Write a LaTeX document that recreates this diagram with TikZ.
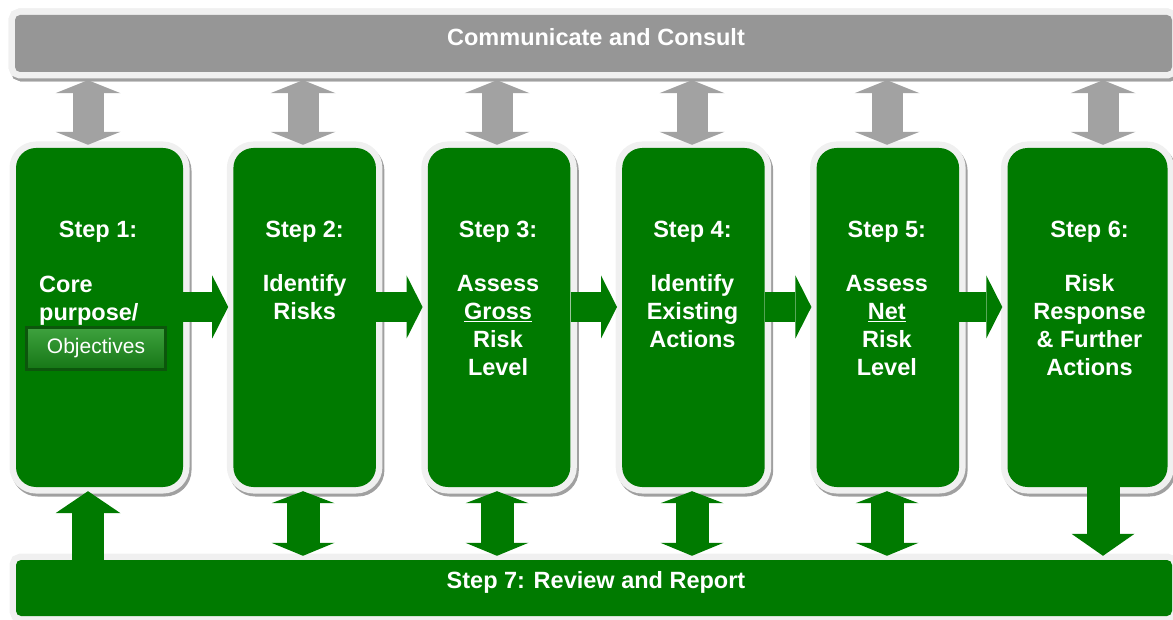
\documentclass[tikz,border=0pt]{standalone}
\usepackage{fontspec}
\setmainfont{Liberation Sans}
\usetikzlibrary{arrows.meta, positioning}
\definecolor{stepgreen}{RGB}{0,122,0}
\definecolor{bargray}{RGB}{150,150,150}
\definecolor{arrowgray}{RGB}{162,162,162}
\definecolor{rimgray}{RGB}{240,240,240}
\definecolor{shadegray}{RGB}{160,160,160}
\definecolor{objdark}{RGB}{12,86,12}
\definecolor{objtop}{RGB}{62,162,62}
\definecolor{objbot}{RGB}{22,118,22}
\tikzset{
  rimmed/.style={
    preaction={draw=shadegray, line width=13pt, transform canvas={shift={(2pt,-3pt)}}},
    preaction={draw=rimgray, line width=13pt}},
  stepbox/.style={rimmed, fill=stepgreen, rounded corners=20pt, inner sep=0pt,
    minimum width=142.5pt, minimum height=339pt},
  barbox/.style={rimmed, rounded corners=5pt, inner sep=0pt,
    minimum width=1157pt, minimum height=57pt},
  steptext/.style={text=white, align=center, inner sep=0pt,
    font=\bfseries\fontsize{23.5}{28}\selectfont},
  objbtn/.style={draw=objdark, line width=3pt, top color=objtop, bottom color=objbot,
    minimum width=139pt, minimum height=42pt, inner sep=0pt, text=white,
    font=\fontsize{21}{24}\selectfont},
  % block arrows
  fwd/.style={draw=stepgreen, line width=30pt,
    -{Triangle[width=63pt, length=16pt, line width=0pt]}},
  sync/.style={draw=arrowgray, line width=31pt,
    {Triangle[width=65pt, length=13pt, line width=0pt]}-{Triangle[width=65pt, length=13pt, line width=0pt]}},
  loop/.style={draw=stepgreen, line width=33pt,
    {Triangle[width=63pt, length=12pt, line width=0pt]}-{Triangle[width=63pt, length=13pt, line width=0pt]}},
  lift/.style={draw=stepgreen, line width=32pt,
    -{Triangle[width=65pt, length=22pt, line width=0pt]}},
  drop/.style={draw=stepgreen, line width=33pt,
    -{Triangle[width=63pt, length=22pt, line width=0pt]}}
}

\begin{document}
\begin{tikzpicture}[x=1pt, y=-1pt]
  \useasboundingbox (0,0) rectangle (1173,620);

  % arrow columns
  \foreach \i/\x in {1/88, 2/303, 3/497, 4/692, 5/887, 6/1103}
    \coordinate (col\i) at (\x,0);

  % the six steps
  \node[stepbox, minimum width=167pt] (s1) at (99.5,317.5) {};
  \node[stepbox, right=50pt of s1] (s2) {};
  \node[stepbox, right=51.5pt of s2] (s3) {};
  \node[stepbox, right=51.5pt of s3] (s4) {};
  \node[stepbox, right=51.5pt of s4] (s5) {};
  \node[stepbox, right=48pt of s5, minimum width=160pt] (s6) {};

  \node[steptext, below=73pt of s1.north, xshift=-1.5pt] (t1) {Step 1:};
  \node[steptext, align=left, anchor=north west] (core) at (39,276) {Core\\purpose/};
  \node[objbtn] (obj) at (96,348.5) {Objectives};
  \node[steptext, below=73pt of s2.north] (t2) {Step 2:\\[26pt]Identify\\Risks};
  \node[steptext, below=73pt of s3.north, xshift=-1pt] (t3) {Step 3:\\[26pt]Assess\\\underline{Gross}\\Risk\\Level};
  \node[steptext, below=73pt of s4.north, xshift=-1pt] (t4) {Step 4:\\[26pt]Identify\\Existing\\Actions};
  \node[steptext, below=73pt of s5.north, xshift=-1pt] (t5) {Step 5:\\[26pt]Assess\\\underline{Net}\\Risk\\Level};
  \node[steptext, below=73pt of s6.north, xshift=2pt] (t6) {Step 6:\\[26pt]Risk\\Response\\\& Further\\Actions};

  \foreach \a/\b in {s1/s2, s2/s3, s3/s4, s4/s5, s5/s6}
    \draw[fwd, shorten >=5pt] ([yshift=10.5pt]\a.east) -- ([yshift=10.5pt]\b.west);

  % communicate and consult
  \node[barbox, fill=bargray] (comm) at (593.5,43.5) {};
  \foreach \i in {1,...,6}
    \draw[sync, shorten <=8pt, shorten >=3pt] (comm.south -| col\i) -- (s\i.north -| col\i);
  \node[barbox, fill=bargray] at (comm) {};
  \node[steptext, anchor=base] (commtxt) at (596,45.5) {Communicate and Consult};

  % review and report
  \node[barbox, fill=stepgreen, minimum width=1156pt, minimum height=56pt] (rep) at (594,588) {};
  \node[steptext, anchor=base] (reptxt) at (596,588.5) {Step 7: Review and Report};

  \draw[lift, shorten >=4pt] (rep.north -| col1) -- (s1.south -| col1);
  \foreach \i in {2,...,5}
    \draw[loop, shorten <=4pt, shorten >=4pt] (s\i.south -| col\i) -- (rep.north -| col\i);
  \draw[drop, shorten >=4pt] (s6.south -| col6) -- (rep.north -| col6);
\end{tikzpicture}
\end{document}
